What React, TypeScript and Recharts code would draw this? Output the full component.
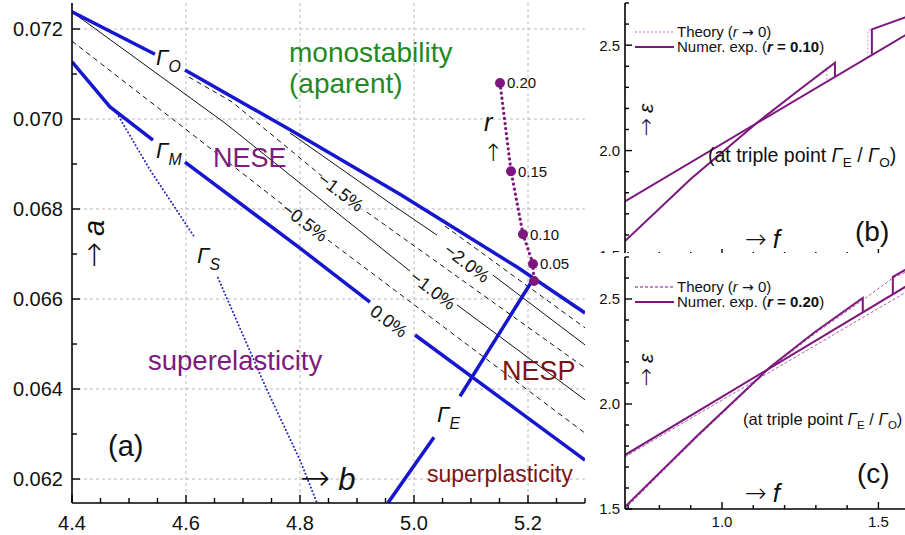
import { CartesianGrid, LabelList, Line, LineChart, XAxis, YAxis } from 'recharts'

const FONT = '"Liberation Sans", Arial, Helvetica, sans-serif'
const ARROW = '"DejaVu Sans", sans-serif'
const BLUE = '#1616cf'
const PURPLE = '#7d177d'
const GREEN = '#1f8a1f'
const VIOLET = '#7e1a80'
const MAROON = '#7d1414'

type P = [number, number]

// panel (a): curves in the (b, a) plane
const gammaO1: P[] = [[4.4, 0.07238], [4.5456, 0.07144]]
const gammaO2: P[] = [[4.5982, 0.07109], [4.7825, 0.06976], [4.9754, 0.06833], [5.1807, 0.06671], [5.3, 0.06569]]
const gammaM1: P[] = [[4.4, 0.07127], [4.4667, 0.07027], [4.5421, 0.06953]]
const gammaM2: P[] = [[4.5982, 0.06904], [4.8, 0.06713], [4.9228, 0.06593]]
const gammaM3: P[] = [[5.0018, 0.0652], [5.3, 0.06242]]
const gammaS1: P[] = [[4.4754, 0.0702], [4.5368, 0.06887], [4.6158, 0.06736]]
const gammaS2: P[] = [[4.6561, 0.06647], [4.7421, 0.06398], [4.8, 0.06242], [4.8298, 0.06147]]
const gammaE1: P[] = [[4.9544, 0.06147], [5.0351, 0.06293]]
const gammaE2: P[] = [[5.0807, 0.06384], [5.207, 0.0664]]

// strain contours (dashed / solid alternate)
const c05a: P[] = [[4.4, 0.07173], [4.5947, 0.06982], [4.7684, 0.06811]]
const c05b: P[] = [[4.8491, 0.06731], [5.3, 0.06302]]
const c10a: P[] = [[4.4, 0.07238], [4.6684, 0.06991], [4.993, 0.06662]]
const c10b: P[] = [[5.0754, 0.06587], [5.3, 0.06376]]
const c15a: P[] = [[4.6053, 0.07093], [4.6807, 0.07038], [4.8386, 0.06873]]
const c15b: P[] = [[4.9175, 0.06793], [5.3, 0.06447]]
const c20a: P[] = [[4.7825, 0.06969], [4.9579, 0.06813], [5.0404, 0.06742]]
const c20b: P[] = [[5.1386, 0.06653], [5.3, 0.06498]]
const c25: P[] = [[5.0544, 0.06762], [5.3, 0.06536]]

// triple point shift with r
const rLabels = ['0.20', '0.15', '0.10', '0.05', '']
const rB = [5.1509, 5.1702, 5.1912, 5.2088, 5.2105]
const rA = [0.0708, 0.06884, 0.06744, 0.06678, 0.0664]

// panel (b): eps vs f, r = 0.10
const bNumS: P[] = [[0.69, 1.759], [1.7, 2.648]]
const bNumT: P[] = [[0.69, 1.571], [0.9, 1.865], [1.112, 2.132], [1.24, 2.28], [1.361, 2.417], [1.361, 2.35]]
const bNumU: P[] = [[1.479, 2.454], [1.479, 2.575], [1.585, 2.632], [1.7, 2.694]]
const bThT: P[] = [[0.69, 1.571], [0.9, 1.865], [1.112, 2.132], [1.24, 2.28], [1.335, 2.392], [1.335, 2.327]]
const bThU: P[] = [[1.466, 2.442], [1.466, 2.57], [1.585, 2.632], [1.7, 2.694]]

// panel (c): eps vs f, r = 0.20
const cNumS: P[] = [[0.69, 1.757], [1.7, 2.66]]
const cNumT: P[] = [[0.69, 1.51], [0.92, 1.848], [1.153, 2.175], [1.297, 2.343], [1.45, 2.505], [1.45, 2.436]]
const cNumU: P[] = [[1.546, 2.522], [1.546, 2.605], [1.585, 2.638], [1.65, 2.675]]
const cThS: P[] = [[0.69, 1.748], [1.7, 2.63]]
const cThT: P[] = [[0.69, 1.5], [0.92, 1.84], [1.153, 2.17], [1.297, 2.335], [1.45, 2.495], [1.546, 2.6], [1.65, 2.67]]

const toBA = (arr: P[]) => arr.map(([b, a]) => ({ b, a }))
const toFE = (arr: P[]) => arr.map(([f, e]) => ({ f, e }))
const rPoints = rB.map((b, i) => ({ b, a: rA[i], lbl: rLabels[i] }))

const steps = (from: number, to: number, step: number) => {
  const out: number[] = []
  for (let i = 0; from + i * step <= to + 1e-9; i++) out.push(+(from + i * step).toFixed(4))
  return out
}
const isMult = (v: number, step: number) => Math.abs(v / step - Math.round(v / step)) < 1e-6

type Side = 'bottom' | 'top' | 'left' | 'right'
const makeTick =
  (side: Side, step: number, minorLen: number, majorLen: number, label?: { digits: number; size: number; off: number }) =>
  (p: any) => {
    const v = p.payload.value as number
    const major = isMult(v, step)
    const len = major ? majorLen : minorLen
    const { x, y } = p
    let x2 = x
    let y2 = y
    if (side === 'bottom') y2 = y - len
    if (side === 'top') y2 = y + len
    if (side === 'left') x2 = x + len
    if (side === 'right') x2 = x - len
    let txt = null
    if (label && major) {
      const s = v.toFixed(label.digits)
      if (side === 'left')
        txt = <text x={x - label.off} y={y + label.size * 0.36} textAnchor="end" fontSize={label.size} fontFamily={FONT} fill="#111">{s}</text>
      else
        txt = <text x={x} y={y + label.off} textAnchor="middle" fontSize={label.size} fontFamily={FONT} fill="#111">{s}</text>
    }
    return (
      <g>
        <line x1={x} y1={y} x2={x2} y2={y2} stroke="#000" strokeWidth={1.4} />
        {txt}
      </g>
    )
  }

const axisLine = { stroke: '#000', strokeWidth: 1.6 }
const common = { tickSize: 0, tickMargin: 0, tickLine: false, interval: 0 as const, allowDataOverflow: true, axisLine }

const bTicks = steps(4.4, 5.3, 0.05)
const aTicks = steps(0.062, 0.072, 0.001)
const fTicks = steps(0.7, 1.7, 0.1)
const eTicks = steps(1.5, 2.7, 0.1)

const blue = (d: P[], key: string) => (
  <Line key={key} data={toBA(d)} dataKey="a" stroke={BLUE} strokeWidth={3.5} dot={false} isAnimationActive={false} />
)
const contour = (d: P[], key: string, dashed: boolean) => (
  <Line key={key} data={toBA(d)} dataKey="a" stroke="#111" strokeWidth={1} strokeDasharray={dashed ? '5 4' : undefined} dot={false} isAnimationActive={false} />
)
const fLine = (d: P[], key: string, color: string, width: number, dash?: string) => (
  <Line key={key} data={toFE(d)} dataKey="e" stroke={color} strokeWidth={width} strokeDasharray={dash} dot={false} isAnimationActive={false} />
)

const Gamma = ({ x, y, sub, size = 22 }: { x: number; y: number; sub: string; size?: number }) => (
  <text x={x} y={y} fontSize={size} fontStyle="italic" fontFamily={FONT} fill="#111">
    Γ<tspan fontSize={size * 0.72} dy={size * 0.32}>{sub}</tspan>
  </text>
)

const Pct = ({ x, y, t }: { x: number; y: number; t: string }) => (
  <text transform={`translate(${x},${y}) rotate(37)`} textAnchor="middle" dy="0.35em" fontSize={18} fontFamily={FONT} fill="#111">{t}</text>
)

const Triple = ({ x, y, size }: { x: number; y: number; size: number }) => (
  <text x={x} y={y} fontSize={size} fontFamily={FONT} fill="#111">
    (at triple point <tspan fontStyle="italic">Γ</tspan>
    <tspan fontSize={size * 0.7} dy={size * 0.25}>E</tspan>
    <tspan dy={-size * 0.25}> / </tspan>
    <tspan fontStyle="italic">Γ</tspan>
    <tspan fontSize={size * 0.7} dy={size * 0.25}>O</tspan>
    <tspan dy={-size * 0.25}>)</tspan>
  </text>
)

const LegendF = ({ y, r, thColor, thDash }: { y: number; r: string; thColor: string; thDash: string }) => (
  <g fontFamily={FONT} fontSize={15} fill="#111">
    <line x1={635} x2={674} y1={y} y2={y} stroke={thColor} strokeWidth={1.4} strokeDasharray={thDash} />
    <text x={677} y={y + 5}>
      Theory (<tspan fontStyle="italic">r</tspan> <tspan fontFamily={ARROW} fontSize={14}>→</tspan> 0)
    </text>
    <line x1={635} x2={674} y1={y + 15} y2={y + 15} stroke={PURPLE} strokeWidth={2.2} />
    <text x={677} y={y + 20}>
      Numer. exp. (<tspan fontStyle="italic" fontWeight="bold">r</tspan>
      <tspan fontWeight="bold"> = {r}</tspan>)
    </text>
  </g>
)

export default function App() {
  return (
    <div style={{ position: 'fixed', left: 0, top: 0, width: 905, height: 535, overflow: 'hidden', background: '#fff', fontFamily: FONT }}>
      <div style={{ position: 'absolute', left: 0, top: 0 }}>
        <LineChart width={590} height={535} margin={{ top: 3, right: 5, bottom: 0, left: 0 }}>
          <CartesianGrid
            verticalValues={[4.6, 4.8, 5.0, 5.2]}
            horizontalValues={[0.062, 0.064, 0.066, 0.068, 0.07, 0.072]}
            stroke="#b8b8b8"
            strokeDasharray="3 3"
          />
          <XAxis type="number" dataKey="b" domain={[4.4, 5.3]} ticks={bTicks} height={32} {...common}
            tick={makeTick('bottom', 0.2, 5, 8, { digits: 1, size: 20, off: 27 })} />
          <XAxis xAxisId="top" orientation="top" type="number" dataKey="b" domain={[4.4, 5.3]} ticks={bTicks} height={0} {...common}
            tick={makeTick('top', 0.2, 5, 8)} />
          <YAxis type="number" domain={[0.061467, 0.072578]} ticks={aTicks} width={72} {...common}
            tick={makeTick('left', 0.002, 5, 8, { digits: 3, size: 20, off: 9 })} />
          <YAxis yAxisId="right" orientation="right" type="number" domain={[0.061467, 0.072578]} ticks={aTicks} width={0} {...common}
            tick={makeTick('right', 0.002, 5, 8)} />

          {contour(c05a, 'c05a', true)}
          {contour(c05b, 'c05b', true)}
          {contour(c10a, 'c10a', false)}
          {contour(c10b, 'c10b', false)}
          {contour(c15a, 'c15a', true)}
          {contour(c15b, 'c15b', true)}
          {contour(c20a, 'c20a', false)}
          {contour(c20b, 'c20b', false)}
          {contour(c25, 'c25', true)}

          <Line data={toBA(gammaS1)} dataKey="a" stroke="#2a2ac0" strokeWidth={2} strokeDasharray="0.1 3.6" strokeLinecap="round" dot={false} isAnimationActive={false} />
          <Line data={toBA(gammaS2)} dataKey="a" stroke="#2a2ac0" strokeWidth={2} strokeDasharray="0.1 3.6" strokeLinecap="round" dot={false} isAnimationActive={false} />
          {blue(gammaO1, 'o1')}
          {blue(gammaO2, 'o2')}
          {blue(gammaM1, 'm1')}
          {blue(gammaM2, 'm2')}
          {blue(gammaM3, 'm3')}
          {blue(gammaE1, 'e1')}
          {blue(gammaE2, 'e2')}

          <Line data={rPoints} dataKey="a" stroke={PURPLE} strokeWidth={3.2} strokeDasharray="0.1 5" strokeLinecap="round"
            dot={{ r: 5, fill: PURPLE, stroke: 'none', strokeDasharray: 'none' }} isAnimationActive={false}>
            <LabelList dataKey="lbl" position="right" offset={7} fontSize={15} fill="#111" fontFamily={FONT} />
          </Line>
        </LineChart>
      </div>

      <div style={{ position: 'absolute', left: 586, top: 0 }}>
        <LineChart width={355} height={260} margin={{ top: 3, right: 0, bottom: 0, left: 0 }}>
          <XAxis type="number" dataKey="f" domain={[0.69, 1.7]} ticks={fTicks} height={4} {...common}
            tick={makeTick('bottom', 0.5, 4, 7)} />
          <XAxis xAxisId="top" orientation="top" type="number" dataKey="f" domain={[0.69, 1.7]} ticks={fTicks} height={0} {...common}
            tick={makeTick('top', 0.5, 4, 7)} />
          <YAxis type="number" domain={[1.5, 2.7]} ticks={eTicks} width={39} {...common}
            tick={makeTick('left', 0.5, 4, 7, { digits: 1, size: 15, off: 5 })} />
          {fLine(bThT, 'tt', '#d9a3d9', 1.2, '2 2')}
          {fLine(bThU, 'tu', '#d9a3d9', 1.2, '2 2')}
          {fLine(bNumS, 's', PURPLE, 2)}
          {fLine(bNumT, 't', PURPLE, 2)}
          {fLine(bNumU, 'u', PURPLE, 2)}
        </LineChart>
      </div>

      <div style={{ position: 'absolute', left: 586, top: 253, background: '#fff' }}>
        <LineChart width={355} height={282} margin={{ top: 4, right: 0, bottom: 0, left: 0 }}>
          <XAxis type="number" dataKey="f" domain={[0.69, 1.7]} ticks={fTicks} height={26} {...common}
            tick={makeTick('bottom', 0.5, 4, 7, { digits: 1, size: 15, off: 18 })} />
          <XAxis xAxisId="top" orientation="top" type="number" dataKey="f" domain={[0.69, 1.7]} ticks={fTicks} height={0} {...common}
            tick={makeTick('top', 0.5, 4, 7, { digits: 1, size: 15, off: 16 })} />
          <YAxis type="number" domain={[1.5, 2.7]} ticks={eTicks} width={39} {...common}
            tick={makeTick('left', 0.5, 4, 7, { digits: 1, size: 15, off: 5 })} />
          {fLine(cThS, 'ts', '#a862a8', 1, '3 2')}
          {fLine(cThT, 'tt', '#a862a8', 1, '3 2')}
          {fLine(cNumS, 's', PURPLE, 2)}
          {fLine(cNumT, 't', PURPLE, 2)}
          {fLine(cNumU, 'u', PURPLE, 2)}
        </LineChart>
      </div>

      <svg width={905} height={535} style={{ position: 'absolute', left: 0, top: 0, pointerEvents: 'none' }} fontFamily={FONT}>
        <text x={289} y={62} fontSize={28} fill={GREEN}>monostability</text>
        <text x={289} y={93} fontSize={28} fill={GREEN}>(aparent)</text>
        <text x={213} y={167} fontSize={27} fill={VIOLET}>NESE</text>
        <text x={502} y={380} fontSize={27} fill={MAROON}>NESP</text>
        <text x={148} y={370} fontSize={27.5} fill={VIOLET}>superelasticity</text>
        <text x={427} y={482} fontSize={23} fill={MAROON}>superplasticity</text>
        <text x={108} y={456} fontSize={29} fill="#111">(a)</text>
        <text x={300} y={490} fontSize={31} fill="#111">
          <tspan fontFamily={ARROW} fontSize={36} fontWeight={200}>→</tspan>
          <tspan fontStyle="italic" dx={8}>b</tspan>
        </text>
        <text transform="translate(104,244) rotate(-90)" textAnchor="middle" fontSize={29} fill="#111">
          <tspan fontFamily={ARROW} fontSize={31} fontWeight={200}>→</tspan>
          <tspan fontStyle="italic" dx={6}>a</tspan>
        </text>
        <Gamma x={156} y={65} sub="O" />
        <Gamma x={156} y={158} sub="M" />
        <Gamma x={197} y={263} sub="S" />
        <Gamma x={437} y={422} sub="E" />
        <Pct x={341} y={192} t="−1.5%" />
        <Pct x={305} y={222} t="−0.5%" />
        <Pct x={467} y={263} t="−2.0%" />
        <Pct x={433} y={290} t="−1.0%" />
        <Pct x={389} y={321} t="0.0%" />
        <text x={484} y={131} fontSize={25} fontStyle="italic" fill="#111">r</text>
        <text x={493} y={161} fontSize={24} textAnchor="middle" fontFamily={ARROW} fontWeight={200} fill="#111">↑</text>

        <LegendF y={32} r="0.10" thColor="#d9a3d9" thDash="2 2" />
        <Triple x={708} y={162} size={19.5} />
        <text transform="translate(653,120) rotate(-90)" textAnchor="middle" fontSize={21} fill="#111">
          <tspan fontFamily={ARROW} fontSize={22} fontWeight={200}>→</tspan>
          <tspan fontStyle="italic" dx={5}>ε</tspan>
        </text>
        <text x={745} y={248} fontSize={26} fill="#111">
          <tspan fontFamily={ARROW} fontSize={26} fontWeight={200}>→</tspan>
          <tspan fontStyle="italic" dx={6}>f</tspan>
        </text>
        <text x={855} y={241} fontSize={28} fill="#111">(b)</text>

        <LegendF y={287} r="0.20" thColor="#a862a8" thDash="3 2" />
        <Triple x={743} y={425} size={16.5} />
        <text transform="translate(653,370) rotate(-90)" textAnchor="middle" fontSize={21} fill="#111">
          <tspan fontFamily={ARROW} fontSize={22} fontWeight={200}>→</tspan>
          <tspan fontStyle="italic" dx={5}>ε</tspan>
        </text>
        <text x={745} y={502} fontSize={26} fill="#111">
          <tspan fontFamily={ARROW} fontSize={26} fontWeight={200}>→</tspan>
          <tspan fontStyle="italic" dx={6}>f</tspan>
        </text>
        <text x={857} y={483} fontSize={28} fill="#111">(c)</text>
      </svg>
    </div>
  )
}
